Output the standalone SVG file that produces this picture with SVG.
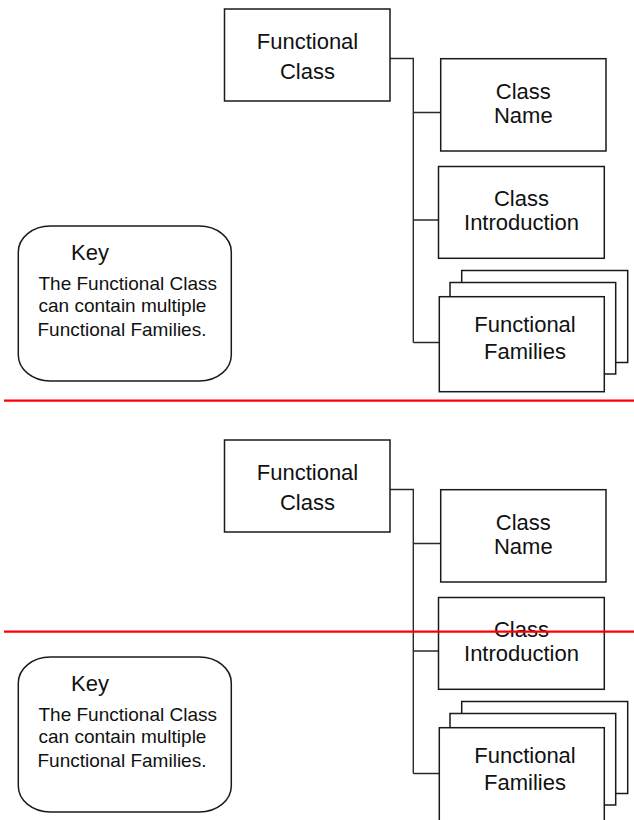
<svg xmlns="http://www.w3.org/2000/svg" width="634" height="820" viewBox="0 0 634 820">
<style>
.box{fill:#fff;stroke:#1a1a1a;stroke-width:1.5}
.key{fill:#fff;stroke:#1a1a1a;stroke-width:1.5}
.conn{fill:none;stroke:#2a2a2a;stroke-width:1.4}
.lbl{font-family:"Liberation Sans",Arial,sans-serif;font-size:22px;fill:#111;text-anchor:middle}
.kt{font-family:"Liberation Sans",Arial,sans-serif;font-size:22px;fill:#111}
.kb{font-family:"Liberation Sans",Arial,sans-serif;font-size:19px;fill:#111}
.red{stroke:#ff0000;stroke-width:2.2}
</style>
<rect width="634" height="820" fill="#fff"/>
<g id="top-copy">
  <g id="top-connectors">
    <path class="conn" d="M390,58.5 H413.3 V342.5 M413.3,112.5 H440.7 M413.3,220 H438.5 M413.3,342.5 H439.3"/>
  </g>
  <g id="top-functional-class">
    <rect class="box" x="224.5" y="9" width="165.5" height="92"/>
    <text class="lbl" x="307.5" y="49">Functional</text>
    <text class="lbl" x="307.5" y="79">Class</text>
  </g>
  <g id="top-class-name">
    <rect class="box" x="440.7" y="58.7" width="165.3" height="92.3"/>
    <text class="lbl" x="523.3" y="99">Class</text>
    <text class="lbl" x="523.3" y="122.5">Name</text>
  </g>
  <g id="top-class-introduction">
    <rect class="box" x="438.5" y="166.5" width="165.8" height="91.8"/>
    <text class="lbl" x="521.5" y="206">Class</text>
    <text class="lbl" x="521.5" y="229.5">Introduction</text>
  </g>
  <g id="top-functional-families">
    <rect class="box" x="461.7" y="270.5" width="166" height="92"/>
    <rect class="box" x="450" y="282.5" width="165.7" height="91.5"/>
    <rect class="box" x="439.3" y="296.7" width="165" height="95"/>
    <text class="lbl" x="525" y="331.5">Functional</text>
    <text class="lbl" x="525" y="359">Families</text>
  </g>
  <g id="top-key">
    <rect class="key" x="18.3" y="226" width="213" height="155" rx="32" ry="26"/>
    <text class="kt" x="71" y="259.5">Key</text>
    <text class="kb" x="38.5" y="290">The Functional Class</text>
    <text class="kb" x="38.5" y="312">can contain multiple</text>
    <text class="kb" x="37.5" y="336">Functional Families.</text>
  </g>
</g>
<g id="bottom-copy" transform="translate(0,431)">
  <g id="bottom-connectors">
    <path class="conn" d="M390,58.5 H413.3 V342.5 M413.3,112.5 H440.7 M413.3,220 H438.5 M413.3,342.5 H439.3"/>
  </g>
  <g id="bottom-functional-class">
    <rect class="box" x="224.5" y="9" width="165.5" height="92"/>
    <text class="lbl" x="307.5" y="49">Functional</text>
    <text class="lbl" x="307.5" y="79">Class</text>
  </g>
  <g id="bottom-class-name">
    <rect class="box" x="440.7" y="58.7" width="165.3" height="92.3"/>
    <text class="lbl" x="523.3" y="99">Class</text>
    <text class="lbl" x="523.3" y="122.5">Name</text>
  </g>
  <g id="bottom-class-introduction">
    <rect class="box" x="438.5" y="166.5" width="165.8" height="91.8"/>
    <text class="lbl" x="521.5" y="206">Class</text>
    <text class="lbl" x="521.5" y="229.5">Introduction</text>
  </g>
  <g id="bottom-functional-families">
    <rect class="box" x="461.7" y="270.5" width="166" height="92"/>
    <rect class="box" x="450" y="282.5" width="165.7" height="91.5"/>
    <rect class="box" x="439.3" y="296.7" width="165" height="95"/>
    <text class="lbl" x="525" y="331.5">Functional</text>
    <text class="lbl" x="525" y="359">Families</text>
  </g>
  <g id="bottom-key">
    <rect class="key" x="18.3" y="226" width="213" height="155" rx="32" ry="26"/>
    <text class="kt" x="71" y="259.5">Key</text>
    <text class="kb" x="38.5" y="290">The Functional Class</text>
    <text class="kb" x="38.5" y="312">can contain multiple</text>
    <text class="kb" x="37.5" y="336">Functional Families.</text>
  </g>
</g>
<g id="red-lines">
  <line class="red" x1="4" y1="400.7" x2="634" y2="400.7"/>
  <line class="red" x1="4" y1="631.7" x2="634" y2="631.7"/>
</g>
</svg>
